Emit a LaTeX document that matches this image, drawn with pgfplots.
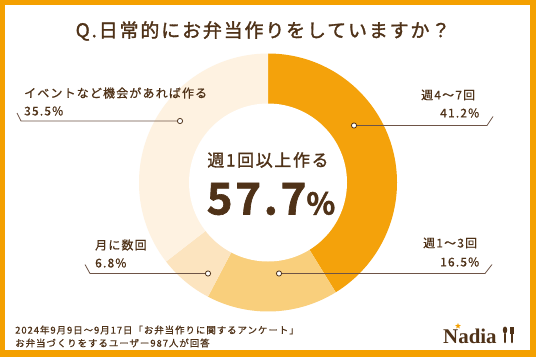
\documentclass[border=0pt]{standalone}
\usepackage{pgfplots}
\pgfplotsset{compat=1.18}
\usepackage{pgfplotstable}
\usetikzlibrary{shapes.geometric}
\usepackage{fontspec}
\setmainfont{Noto Sans CJK JP}[LetterSpace=10, FakeBold=0.8]
\newfontfamily\jptitle{Noto Sans CJK JP}[LetterSpace=10, FakeBold=1.6]
\newfontfamily\jpbig{Noto Sans CJK JP Bold}[LetterSpace=6, FakeBold=1.5]
\newfontfamily\logofont{Liberation Serif}
\definecolor{tbrown}{HTML}{4F3218}
\definecolor{c1}{HTML}{F4A20B}
\definecolor{c2}{HTML}{F9CF7C}
\definecolor{c3}{HTML}{FCE4BF}
\definecolor{c4}{HTML}{FEF2E1}
\definecolor{frame}{HTML}{F4A000}
\definecolor{lead}{HTML}{6E5446}
\pgfplotstableread{
label value color
A 41.2 c1
B 16.5 c2
C 6.8 c3
D 35.5 c4
}\piedata
\begin{document}
\begin{tikzpicture}
\begin{axis}[scale only axis, width=536bp, height=357bp,
  xmin=0, xmax=536, ymin=0, ymax=357, y dir=reverse,
  hide axis, clip=false]
\fill[frame] (axis cs:0,0) rectangle (axis cs:536,357);
\fill[white] (axis cs:5,5) rectangle (axis cs:530,350);
\def\cum{0}
\pgfplotsforeachungrouped \i in {0,...,3}{%
  \pgfplotstablegetelem{\i}{value}\of\piedata
  \let\v\pgfplotsretval
  \pgfplotstablegetelem{\i}{color}\of\piedata
  \let\col\pgfplotsretval
  \pgfmathsetmacro\sa{90-3.6*\cum}
  \pgfmathsetmacro\ea{90-3.6*(\cum+\v)}
  \pgfmathsetmacro\cum{\cum+\v}
  \edef\temp{\noexpand\fill[\col] (axis cs:268,182.5) -- ++(\sa:129bp) arc[start angle=\sa,end angle=\ea,radius=129bp] -- cycle;}
  \temp
}
\fill[white] (axis cs:268,182.5) circle[radius=79bp];
% leader lines
\addplot[lead, line width=0.8bp, mark=none] coordinates {(17,113) (21,121) (180,121)};
\addplot[lead, line width=0.8bp, mark=none] coordinates {(354,125.5) (487,125.5) (493,116.5)};
\addplot[lead, line width=0.8bp, mark=none] coordinates {(85,264.5) (90,273.5) (208,273.5)};
\addplot[lead, line width=0.8bp, mark=none] coordinates {(279,273.5) (485,273.5) (492,264.5)};
\addplot[only marks, mark=*, mark size=2.6bp, mark options={fill=white, draw=tbrown, line width=0.8bp}]
  coordinates {(180,121) (354,125.5) (208,273.5) (279,273.5)};
% title
\node[text=tbrown, font=\jptitle\fontsize{19}{21}\selectfont] at (axis cs:263,31) {Q.日常的にお弁当作りをしていますか？};
% labels
\node[anchor=west, inner sep=0pt, text=tbrown, font=\fontsize{12}{14}\selectfont] at (axis cs:24,93) {イベントなど機会があれば作る};
\node[anchor=west, inner sep=0pt, text=tbrown, font=\fontsize{12}{14}\selectfont] at (axis cs:24,111) {35.5\%};
\node[anchor=west, inner sep=0pt, text=tbrown, font=\fontsize{12}{14}\selectfont] at (axis cs:421,95) {週4〜7回};
\node[anchor=west, inner sep=0pt, text=tbrown, font=\fontsize{12}{14}\selectfont] at (axis cs:440,113) {41.2\%};
\node[anchor=west, inner sep=0pt, text=tbrown, font=\fontsize{12}{14}\selectfont] at (axis cs:95,245) {月に数回};
\node[anchor=west, inner sep=0pt, text=tbrown, font=\fontsize{12}{14}\selectfont] at (axis cs:95,263) {6.8\%};
\node[anchor=west, inner sep=0pt, text=tbrown, font=\fontsize{12}{14}\selectfont] at (axis cs:423,243) {週1〜3回};
\node[anchor=west, inner sep=0pt, text=tbrown, font=\fontsize{12}{14}\selectfont] at (axis cs:440,262) {16.5\%};
% center
\node[text=tbrown, font=\jptitle\fontsize{17}{19}\selectfont] at (axis cs:268,160) {週1回以上作る};
\node[text=tbrown, inner sep=0pt] at (axis cs:271,199) {{\jpbig\fontsize{44}{44}\selectfont 57.7}{\jpbig\fontsize{30}{30}\selectfont\%}};
% footer
\node[anchor=west, inner sep=0pt, text=tbrown, font=\fontsize{9.5}{11}\selectfont] at (axis cs:15,330) {2024年9月9日〜9月17日「お弁当作りに関するアンケート」};
\node[anchor=west, inner sep=0pt, text=tbrown, font=\fontsize{9.5}{11}\selectfont] at (axis cs:15,343) {お弁当づくりをするユーザー987人が回答};
% logo
\node[anchor=base west, inner sep=0pt, text=tbrown, font=\logofont\bfseries\fontsize{21}{21}\selectfont] at (axis cs:443,343) {Nadia};
\node[star, star points=5, star point ratio=2.3, fill=frame, minimum size=6bp, inner sep=0pt] at (axis cs:458,326) {};
\draw[tbrown, line width=2.6bp, line cap=round] (axis cs:505,334) -- (axis cs:505,342);
\fill[tbrown] (axis cs:505,330) ellipse[x radius=2.2bp, y radius=3.5bp];
\draw[tbrown, line width=2.6bp, line cap=round] (axis cs:512,333) -- (axis cs:512,342);
\fill[tbrown] (axis cs:509.8,326.5) rectangle (axis cs:514.2,333.5);
\end{axis}
\end{tikzpicture}
\end{document}
